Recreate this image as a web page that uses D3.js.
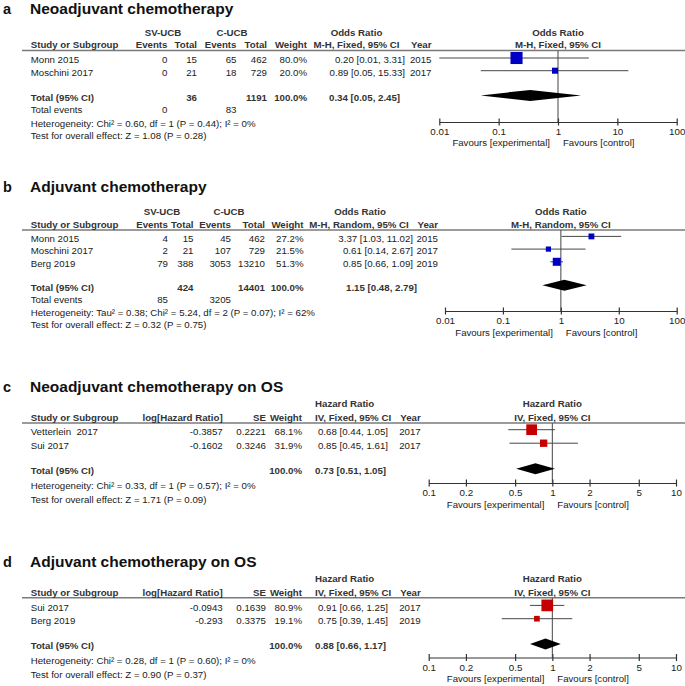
<!DOCTYPE html>
<html><head><meta charset="utf-8">
<script src="https://cdn.jsdelivr.net/npm/d3@7"></script>
<style>
body{margin:0;background:#fff}
svg{display:block}
text{font-family:"Liberation Sans",Arial,Helvetica,sans-serif;white-space:pre}
</style>
</head><body>
<svg id="chart" width="685" height="686"></svg>
<script>
// ---------------- DATA ----------------
const panelLetters = ["a", "b", "c", "d"];
const panelTitles = ["Neoadjuvant chemotherapy", "Adjuvant chemotherapy",
  "Neoadjuvant chemotherapy on OS", "Adjuvant chemotherapy on OS"];

// Panel a – Odds Ratio, M-H Fixed
const aStudy = ["Monn 2015", "Moschini 2017"];
const aSvEvents = [0, 0];
const aSvTotal = [15, 21];
const aCEvents = [65, 18];
const aCTotal = [462, 729];
const aWeight = [80.0, 20.0];
const aEst = [0.20, 0.89];
const aLow = [0.01, 0.05];
const aHigh = [3.31, 15.33];
const aYear = [2015, 2017];
const aPooled = [0.34, 0.05, 2.45];
const aSumTotals = [36, 1191];
const aSumEvents = [0, 83];
const aHet = "Heterogeneity: Chi² = 0.60, df = 1 (P = 0.44); I² = 0%";
const aTest = "Test for overall effect: Z = 1.08 (P = 0.28)";

// Panel b – Odds Ratio, M-H Random
const bStudy = ["Monn 2015", "Moschini 2017", "Berg 2019"];
const bSvEvents = [4, 2, 79];
const bSvTotal = [15, 21, 388];
const bCEvents = [45, 107, 3053];
const bCTotal = [462, 729, 13210];
const bWeight = [27.2, 21.5, 51.3];
const bEst = [3.37, 0.61, 0.85];
const bLow = [1.03, 0.14, 0.66];
const bHigh = [11.02, 2.67, 1.09];
const bYear = [2015, 2017, 2019];
const bPooled = [1.15, 0.48, 2.79];
const bSumTotals = [424, 14401];
const bSumEvents = [85, 3205];
const bHet = "Heterogeneity: Tau² = 0.38; Chi² = 5.24, df = 2 (P = 0.07); I² = 62%";
const bTest = "Test for overall effect: Z = 0.32 (P = 0.75)";

// Panel c – Hazard Ratio, IV Fixed
const cStudy = ["Vetterlein  2017", "Sui 2017"];
const cLogHR = ["-0.3857", "-0.1602"];
const cSE = ["0.2221", "0.3246"];
const cWeight = [68.1, 31.9];
const cEst = [0.68, 0.85];
const cLow = [0.44, 0.45];
const cHigh = [1.05, 1.61];
const cYear = [2017, 2017];
const cPooled = [0.73, 0.51, 1.05];
const cHet = "Heterogeneity: Chi² = 0.33, df = 1 (P = 0.57); I² = 0%";
const cTest = "Test for overall effect: Z = 1.71 (P = 0.09)";

// Panel d – Hazard Ratio, IV Fixed
const dStudy = ["Sui 2017", "Berg 2019"];
const dLogHR = ["-0.0943", "-0.293"];
const dSE = ["0.1639", "0.3375"];
const dWeight = [80.9, 19.1];
const dEst = [0.91, 0.75];
const dLow = [0.66, 0.39];
const dHigh = [1.25, 1.45];
const dYear = [2017, 2019];
const dPooled = [0.88, 0.66, 1.17];
const dHet = "Heterogeneity: Chi² = 0.28, df = 1 (P = 0.60); I² = 0%";
const dTest = "Test for overall effect: Z = 0.90 (P = 0.37)";

const orTicks = [0.01, 0.1, 1, 10, 100];
const hrTicks = [0.1, 0.2, 0.5, 1, 2, 5, 10];
const favourLabels = ["Favours [experimental]", "Favours [control]"];

// ---------------- DRAWING ----------------
const svg = d3.select("#chart");
const f2 = d3.format(".2f");
const f1 = d3.format(".1f");
const ciText = (e, l, h) => `${f2(e)} [${f2(l)}, ${f2(h)}]`;
const FS = 9.7;
const BODY = "#1a1a1a", HEAD = "#333";
const BLUE = "#0000c4", RED = "#c40000";

function txt(g, x, y, s, anchor, bold, size, color) {
  return g.append("text").attr("x", x).attr("y", y)
    .attr("text-anchor", anchor || "start")
    .attr("font-size", size || FS)
    .attr("font-weight", bold ? "bold" : "normal")
    .attr("fill", color || (bold ? HEAD : BODY))
    .text(s);
}

function drawPanel(P) {
  const g = svg.append("g");
  txt(g, 3, P.titleY, P.letter, "start", true, 14.5, "#111");
  txt(g, 30, P.titleY, P.title, "start", true, 15.5, "#111");

  P.groups.forEach(gr => txt(g, gr.x, P.h1Y, gr.label, gr.anchor || "middle", true));
  g.append("line").attr("x1", 22).attr("x2", 685)
    .attr("y1", P.lineY).attr("y2", P.lineY)
    .attr("stroke", "#7a7a7a").attr("stroke-width", 1.4);

  const rowY = i => P.firstRowY + i * P.rowStep;
  P.cols.forEach(c => {
    txt(g, c.hx !== undefined ? c.hx : c.x, P.h2Y, c.header, c.hanchor || c.anchor, true);
    c.values.forEach((v, i) => txt(g, c.x, rowY(i), v, c.anchor));
    if (c.total !== undefined) txt(g, c.tx !== undefined ? c.tx : c.x, P.totalY, c.total, c.tanchor || c.anchor, true);
    if (c.events !== undefined) txt(g, c.x, P.eventsY, c.events, c.anchor);
  });
  txt(g, P.cols[0].x, P.hetY, P.het, "start");
  txt(g, P.cols[0].x, P.testY, P.test, "start");

  // forest plot
  const x = d3.scaleLog().domain(P.domain).range(P.xRange);
  txt(g, x(1), P.h1Y, P.plotH1, "middle", true);
  txt(g, x(1), P.h2Y, P.plotH2, "middle", true);

  g.append("line").attr("x1", x(1)).attr("x2", x(1))
    .attr("y1", P.lineY).attr("y2", P.axisY)
    .attr("stroke", "#555").attr("stroke-width", 1.1);

  P.est.forEach((e, i) => {
    const cy = rowY(i) - 5.3;
    g.append("line").attr("x1", x(P.low[i])).attr("x2", x(P.high[i]))
      .attr("y1", cy).attr("y2", cy).attr("stroke", "#474747").attr("stroke-width", 1);
    const s = P.sideK * Math.sqrt(P.weight[i]);
    g.append("rect").attr("x", x(e) - s / 2).attr("y", cy - s / 2)
      .attr("width", s).attr("height", s).attr("fill", P.color);
  });

  const dy = P.totalY - 5.3, hh = 5.5;
  const [pe, pl, ph] = P.pooled;
  g.append("path").attr("d", `M${x(pl)},${dy}L${x(pe)},${dy - hh}L${x(ph)},${dy}L${x(pe)},${dy + hh}Z`)
    .attr("fill", "#000");

  const ax = g.append("g").attr("transform", `translate(0,${P.axisY})`)
    .call(d3.axisBottom(x).tickValues(P.ticks).tickFormat(d => String(d))
      .tickSizeInner(3.5).tickSizeOuter(0).tickPadding(3));
  ax.select(".domain").attr("stroke", "#333").attr("stroke-width", 1.2);
  ax.selectAll(".tick line").attr("y1", -3.5).attr("y2", 3.5).attr("stroke", "#333").attr("stroke-width", 1.2);
  ax.selectAll(".tick text").attr("font-size", 9.8).attr("fill", BODY)
    .attr("font-family", '"Liberation Sans",Arial,sans-serif');

  txt(g, x(1) - 8, P.favY, favourLabels[0], "end", false, 9.6);
  txt(g, x(1) + 5, P.favY, favourLabels[1], "start", false, 9.6);
}

// Panel a
drawPanel({
  letter: panelLetters[0], title: panelTitles[0],
  titleY: 13.5, h1Y: 35.5, h2Y: 48.3, lineY: 50.5, firstRowY: 63.3, rowStep: 12.7,
  totalY: 100.7, eventsY: 113.3, hetY: 126.7, testY: 139.3,
  groups: [{label: "SV-UCB", x: 163}, {label: "C-UCB", x: 232}, {label: "Odds Ratio", x: 356.5}],
  cols: [
    {header: "Study or Subgroup", x: 30.7, anchor: "start", values: aStudy, total: "Total (95% CI)", events: "Total events"},
    {header: "Events", x: 167.5, anchor: "end", values: aSvEvents.map(String), events: String(aSumEvents[0])},
    {header: "Total", x: 197, anchor: "end", values: aSvTotal.map(String), total: String(aSumTotals[0])},
    {header: "Events", x: 236.5, anchor: "end", values: aCEvents.map(String), events: String(aSumEvents[1])},
    {header: "Total", x: 267, anchor: "end", values: aCTotal.map(String), total: String(aSumTotals[1])},
    {header: "Weight", x: 307, anchor: "end", values: aWeight.map(w => f1(w) + "%"), total: "100.0%"},
    {header: "M-H, Fixed, 95% CI", x: 405, anchor: "end", hx: 356.5, hanchor: "middle",
      values: aEst.map((e, i) => ciText(e, aLow[i], aHigh[i])), total: ciText(...aPooled), tx: 329, tanchor: "start"},
    {header: "Year", x: 431.5, anchor: "end", values: aYear.map(String)}
  ],
  het: aHet, test: aTest,
  plotH1: "Odds Ratio", plotH2: "M-H, Fixed, 95% CI",
  domain: [0.01, 100], xRange: [439.3, 676.7], ticks: orTicks, axisY: 122, favY: 146,
  est: aEst, low: aLow, high: aHigh, weight: aWeight, pooled: aPooled, sideK: 1.35, color: BLUE
});

// Panel b
drawPanel({
  letter: panelLetters[1], title: panelTitles[1],
  titleY: 191.7, h1Y: 215, h2Y: 228, lineY: 230, firstRowY: 241.7, rowStep: 12.7,
  totalY: 290.5, eventsY: 303, hetY: 315.7, testY: 328.3,
  groups: [{label: "SV-UCB", x: 162}, {label: "C-UCB", x: 229}, {label: "Odds Ratio", x: 360}],
  cols: [
    {header: "Study or Subgroup", x: 30.7, anchor: "start", values: bStudy, total: "Total (95% CI)", events: "Total events"},
    {header: "Events", x: 168, anchor: "end", values: bSvEvents.map(String), events: String(bSumEvents[0])},
    {header: "Total", x: 193.5, anchor: "end", values: bSvTotal.map(String), total: String(bSumTotals[0])},
    {header: "Events", x: 231, anchor: "end", values: bCEvents.map(String), events: String(bSumEvents[1])},
    {header: "Total", x: 265, anchor: "end", values: bCTotal.map(String), total: String(bSumTotals[1])},
    {header: "Weight", x: 303.5, anchor: "end", values: bWeight.map(w => f1(w) + "%"), total: "100.0%"},
    {header: "M-H, Random, 95% CI", x: 413, anchor: "end", hx: 359, hanchor: "middle",
      values: bEst.map((e, i) => ciText(e, bLow[i], bHigh[i])), total: ciText(...bPooled), tx: 346, tanchor: "start"},
    {header: "Year", x: 438, anchor: "end", values: bYear.map(String)}
  ],
  het: bHet, test: bTest,
  plotH1: "Odds Ratio", plotH2: "M-H, Random, 95% CI",
  domain: [0.01, 100], xRange: [445, 676.7], ticks: orTicks, axisY: 311, favY: 335.5,
  est: bEst, low: bLow, high: bHigh, weight: bWeight, pooled: bPooled, sideK: 1.12, color: BLUE
});

// Panel c
drawPanel({
  letter: panelLetters[2], title: panelTitles[2],
  titleY: 391.7, h1Y: 407, h2Y: 421, lineY: 423, firstRowY: 435, rowStep: 13.5,
  totalY: 474, hetY: 489.3, testY: 502.7,
  groups: [{label: "Hazard Ratio", x: 315, anchor: "start"}],
  cols: [
    {header: "Study or Subgroup", x: 30.7, anchor: "start", values: cStudy, total: "Total (95% CI)"},
    {header: "log[Hazard Ratio]", x: 222.7, anchor: "end", values: cLogHR},
    {header: "SE", x: 266, anchor: "end", values: cSE},
    {header: "Weight", x: 302, anchor: "end", values: cWeight.map(w => f1(w) + "%"), total: "100.0%"},
    {header: "IV, Fixed, 95% CI", x: 388, anchor: "end", hx: 315, hanchor: "start",
      values: cEst.map((e, i) => ciText(e, cLow[i], cHigh[i])), total: ciText(...cPooled), tx: 315, tanchor: "start"},
    {header: "Year", x: 420.7, anchor: "end", values: cYear.map(String)}
  ],
  het: cHet, test: cTest,
  plotH1: "Hazard Ratio", plotH2: "IV, Fixed, 95% CI",
  domain: [0.1, 10], xRange: [428.7, 676], ticks: hrTicks, axisY: 483, favY: 508,
  est: cEst, low: cLow, high: cHigh, weight: cWeight, pooled: cPooled, sideK: 1.3, color: RED
});

// Panel d
drawPanel({
  letter: panelLetters[3], title: panelTitles[3],
  titleY: 566.7, h1Y: 582.3, h2Y: 595.7, lineY: 597.7, firstRowY: 610.7, rowStep: 13.3,
  totalY: 649.3, hetY: 663.8, testY: 677.5,
  groups: [{label: "Hazard Ratio", x: 315, anchor: "start"}],
  cols: [
    {header: "Study or Subgroup", x: 30.7, anchor: "start", values: dStudy, total: "Total (95% CI)"},
    {header: "log[Hazard Ratio]", x: 222.7, anchor: "end", values: dLogHR},
    {header: "SE", x: 266, anchor: "end", values: dSE},
    {header: "Weight", x: 302, anchor: "end", values: dWeight.map(w => f1(w) + "%"), total: "100.0%"},
    {header: "IV, Fixed, 95% CI", x: 388, anchor: "end", hx: 315, hanchor: "start",
      values: dEst.map((e, i) => ciText(e, dLow[i], dHigh[i])), total: ciText(...dPooled), tx: 315, tanchor: "start"},
    {header: "Year", x: 420.7, anchor: "end", values: dYear.map(String)}
  ],
  het: dHet, test: dTest,
  plotH1: "Hazard Ratio", plotH2: "IV, Fixed, 95% CI",
  domain: [0.1, 10], xRange: [428.7, 676], ticks: hrTicks, axisY: 657.5, favY: 681.5,
  est: dEst, low: dLow, high: dHigh, weight: dWeight, pooled: dPooled, sideK: 1.3, color: RED
});
</script>
</body></html>
